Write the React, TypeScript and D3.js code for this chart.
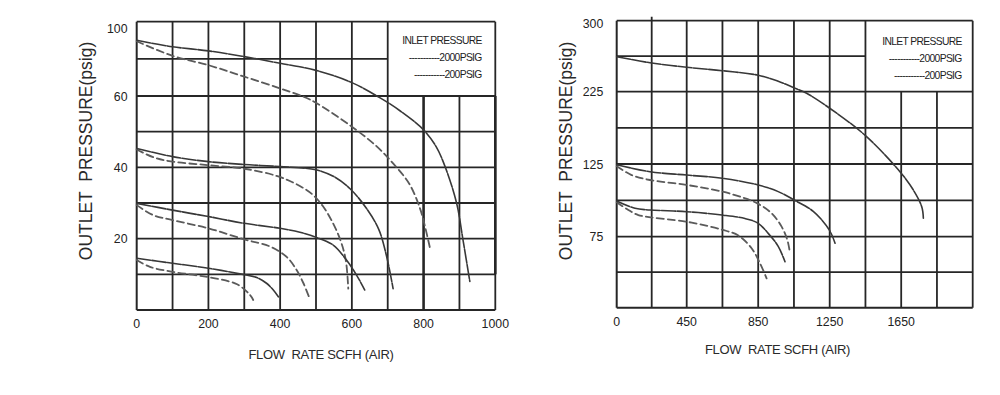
import React from "react";
import * as d3 from "d3";

// ---------- DATA ----------
// Left chart (x: flow SCFH, y: outlet psig)
const leftXTicks = [0, 200, 400, 600, 800, 1000];
const leftYTicks = [20, 40, 60, 100];
const leftSolid90: [number, number][] = [[0, 90], [100, 86.5], [200, 84.3], [300, 81.2], [400, 77.6], [500, 73.8], [600, 67.2], [680, 59.4], [735, 55.8], [800, 50.5], [835, 45.8], [860, 40.2], [892, 30], [910, 19.6], [929, 8]];
const leftDashed90: [number, number][] = [[0, 89.5], [100, 81.6], [200, 76.6], [300, 70.4], [400, 64.1], [465, 59.8], [500, 58.1], [600, 51.4], [670, 45.8], [715, 41.1], [760, 35.4], [790, 28.5], [804, 23.4], [818, 17.3]];
const leftSolid45: [number, number][] = [[0, 45.3], [100, 43], [200, 41.6], [300, 40.8], [400, 40.2], [500, 39.3], [550, 37.4], [595, 34], [640, 28.6], [675, 22.6], [697, 15], [715, 6]];
const leftDashed45: [number, number][] = [[0, 45], [50, 42.7], [100, 41.6], [200, 40.6], [300, 39.6], [390, 37.6], [445, 35.3], [490, 32.4], [520, 29], [545, 24.8], [568, 19.6], [583, 14], [590, 6]];
const leftSolid30: [number, number][] = [[0, 29.9], [100, 28], [200, 26.2], [300, 24.3], [400, 22.9], [455, 21.8], [500, 20.4], [548, 18.2], [585, 14], [613, 9.8], [636, 5.6]];
const leftDashed30: [number, number][] = [[0, 29.4], [46, 26.6], [100, 25.2], [200, 22.9], [300, 19.8], [372, 17.8], [418, 14.9], [446, 11.2], [465, 7.5], [480, 3.8]];
const leftSolid15: [number, number][] = [[0, 14.5], [100, 13.1], [200, 11.7], [300, 9.9], [335, 9.1], [362, 7.5], [381, 5.6], [395, 3.7]];
const leftDashed15: [number, number][] = [[0, 14], [37, 12.1], [100, 10.7], [200, 9.2], [280, 7.2], [316, 4.2], [325, 2.8]];

// Right chart
const rightXTicks = [0, 450, 850, 1250, 1650];
const rightYTicks = [300, 225, 125, 75];
const rightSolid262: [number, number][] = [[0, 262], [214, 255.6], [450, 250.8], [649, 247.2], [850, 242.4], [962, 236], [1052, 229], [1121, 222.8], [1252, 201.8], [1447, 164.9], [1643, 119.7], [1718, 107.1], [1765, 95.6], [1774, 87.7]];
const rightSolid125: [number, number][] = [[0, 124.5], [214, 119.7], [450, 117.4], [649, 115.2], [850, 110.6], [962, 106], [1052, 100.2], [1158, 92.4], [1248, 79.6], [1280, 70.4]];
const rightDashed125: [number, number][] = [[0, 123.5], [96, 117.4], [214, 114], [450, 110.6], [649, 106], [776, 101.4], [850, 97.6], [925, 91.1], [981, 81.9], [1013, 72.7], [1028, 63.3]];
const rightSolid100: [number, number][] = [[0, 99.6], [118, 94.5], [214, 93.4], [450, 92.2], [649, 89.9], [776, 87.5], [850, 84.2], [906, 77.3], [962, 68.2], [1000, 57.4]];
const rightDashed100: [number, number][] = [[0, 98.7], [75, 93.4], [139, 89.9], [450, 85.3], [649, 79.8], [739, 75.8], [814, 66.7], [860, 56.3], [897, 45.7]];

const legendTitle = "INLET PRESSURE";
const legendItems = ["-----------2000PSIG", "-----------200PSIG"];
const yTitle = "OUTLET  PRESSURE(psig)";
const xTitleLeft = "FLOW  RATE SCFH (AIR)";
const xTitleRight = "FLOW  RATE SCFH (AIR)";

// ---------- STYLE ----------
const FONT = "'Liberation Sans', Arial, sans-serif";
const GRID = "#262626";
const SOLID = { stroke: "#383838", width: 1.6, dash: "14,1.5" };
const DASH = { stroke: "#5a5a5a", width: 1.8, dash: "7,4" };

type Seg = { x1: number; y1: number; x2: number; y2: number; w?: number };

function Curve({ data, x, y, style }: any) {
  const line = d3
    .line<[number, number]>()
    .x((d) => x(d[0]))
    .y((d) => y(d[1]))
    .curve(d3.curveCatmullRom.alpha(0.5));
  return (
    <path
      d={line(data) || ""}
      fill="none"
      stroke={style.stroke}
      strokeWidth={style.width}
      strokeDasharray={style.dash}
      strokeLinecap="round"
    />
  );
}

function Grid({ segs }: { segs: Seg[] }) {
  return (
    <g>
      {segs.map((s, i) => (
        <line key={i} x1={s.x1} y1={s.y1} x2={s.x2} y2={s.y2} stroke={GRID} strokeWidth={s.w ?? 1.8} />
      ))}
    </g>
  );
}

function Legend({ xRight, yTop }: { xRight: number; yTop: number }) {
  return (
    <g fontFamily={FONT} fontSize={10.3} fill="#222" letterSpacing={-0.65} textAnchor="end">
      <text x={xRight} y={yTop}>{legendTitle}</text>
      <text x={xRight} y={yTop + 17.5}>{legendItems[0]}</text>
      <text x={xRight} y={yTop + 34.5}>{legendItems[1]}</text>
    </g>
  );
}

export default function App() {
  // Left chart scales
  const lx = d3.scaleLinear().domain([0, 1000]).range([136.7, 495.3]);
  const ly = d3.scaleLinear().domain([0, 60, 100]).range([310, 96, 21.7]);

  const leftSegs: Seg[] = [];
  leftSegs.push({ x1: lx(0), y1: ly(100), x2: lx(1000), y2: ly(100) });
  leftSegs.push({ x1: lx(0), y1: ly(0), x2: lx(1000), y2: ly(0), w: 2 });
  leftSegs.push({ x1: lx(0), y1: ly(100), x2: lx(0), y2: ly(0), w: 2 });
  leftSegs.push({ x1: lx(1000), y1: ly(100), x2: lx(1000), y2: ly(0) });
  leftSegs.push({ x1: lx(1000), y1: ly(60), x2: lx(1000), y2: ly(10), w: 2.6 });
  [10, 20, 30, 40, 50, 60].forEach((v) => leftSegs.push({ x1: lx(0), y1: ly(v), x2: lx(1000), y2: ly(v) }));
  leftSegs.push({ x1: lx(0), y1: ly(80), x2: lx(700), y2: ly(80) });
  [100, 200, 300, 400, 500, 600, 700].forEach((v) => leftSegs.push({ x1: lx(v), y1: ly(100), x2: lx(v), y2: ly(0) }));
  leftSegs.push({ x1: lx(800), y1: ly(60), x2: lx(800), y2: ly(0), w: 2.6 });
  leftSegs.push({ x1: lx(900), y1: ly(60), x2: lx(900), y2: ly(0) });

  // Right chart scales
  const rx = d3.scaleLinear().domain([0, 450, 2050]).range([616.7, 686.7, 972.7]);
  const ry = d3.scaleLinear().domain([25, 75, 125, 225, 300]).range([307.7, 236.7, 164, 91.7, 20.7]);
  const rCols = [225, 450, 650, 850, 1050, 1250, 1450];
  const rRows = [225, 175, 125, 100, 75, 50];

  const rightSegs: Seg[] = [];
  rightSegs.push({ x1: rx(0), y1: ry(300), x2: rx(2050), y2: ry(300) });
  rightSegs.push({ x1: rx(0), y1: ry(25), x2: rx(2050), y2: ry(25), w: 2 });
  rightSegs.push({ x1: rx(0), y1: ry(300), x2: rx(0), y2: ry(25), w: 2 });
  rightSegs.push({ x1: rx(2050), y1: ry(300), x2: rx(2050), y2: ry(25) });
  rRows.forEach((v) => rightSegs.push({ x1: rx(0), y1: ry(v), x2: rx(2050), y2: ry(v) }));
  rightSegs.push({ x1: rx(0), y1: ry(262.5), x2: rx(1450), y2: ry(262.5) });
  rCols.forEach((v) => rightSegs.push({ x1: rx(v), y1: ry(300) - (v === 225 ? 4 : 0), x2: rx(v), y2: ry(25) }));
  [1650, 1850].forEach((v) => rightSegs.push({ x1: rx(v), y1: ry(225), x2: rx(v), y2: ry(25) }));

  return (
    <svg
      width={1000}
      height={395}
      viewBox="0 0 1000 395"
      style={{ position: "absolute", left: 0, top: 0, background: "#fff" }}
    >
      <rect width={1000} height={395} fill="#fff" />
      {/* LEFT CHART */}
      <Grid segs={leftSegs} />
      <Curve data={leftDashed90} x={lx} y={ly} style={DASH} />
      <Curve data={leftSolid90} x={lx} y={ly} style={SOLID} />
      <Curve data={leftDashed45} x={lx} y={ly} style={DASH} />
      <Curve data={leftSolid45} x={lx} y={ly} style={SOLID} />
      <Curve data={leftDashed30} x={lx} y={ly} style={DASH} />
      <Curve data={leftSolid30} x={lx} y={ly} style={SOLID} />
      <Curve data={leftDashed15} x={lx} y={ly} style={DASH} />
      <Curve data={leftSolid15} x={lx} y={ly} style={SOLID} />
      <g fontFamily={FONT} fontSize={12.3} fill="#222">
        {leftXTicks.map((t) => (
          <text key={t} x={lx(t)} y={327.5} textAnchor="middle">{t}</text>
        ))}
        {leftYTicks.map((t) => (
          <text key={t} x={127.5} y={ly(t) + (t === 100 ? 11.5 : 4.5)} textAnchor="end">{t}</text>
        ))}
      </g>
      <text
        transform={`translate(92,151) rotate(-90)`}
        textAnchor="middle"
        fontFamily={FONT}
        fontSize={17.5}
        fill="#2a2a2a"
        style={{ whiteSpace: "pre" }}
      >
        {yTitle}
      </text>
      <text x={321} y={359} textAnchor="middle" fontFamily={FONT} fontSize={13} letterSpacing={-0.3} fill="#2a2a2a" style={{ whiteSpace: "pre" }}>
        {xTitleLeft}
      </text>
      <Legend xRight={481.7} yTop={43.5} />

      {/* RIGHT CHART */}
      <Grid segs={rightSegs} />
      <Curve data={rightSolid262} x={rx} y={ry} style={SOLID} />
      <Curve data={rightDashed125} x={rx} y={ry} style={DASH} />
      <Curve data={rightSolid125} x={rx} y={ry} style={SOLID} />
      <Curve data={rightDashed100} x={rx} y={ry} style={DASH} />
      <Curve data={rightSolid100} x={rx} y={ry} style={SOLID} />
      <g fontFamily={FONT} fontSize={12.3} fill="#222">
        {rightXTicks.map((t) => (
          <text key={t} x={rx(t)} y={326} textAnchor="middle">{t}</text>
        ))}
        {rightYTicks.map((t) => (
          <text key={t} x={603.3} y={ry(t) + (t === 300 ? 7.5 : 4.5)} textAnchor="end">{t}</text>
        ))}
      </g>
      <text
        transform={`translate(572,151) rotate(-90)`}
        textAnchor="middle"
        fontFamily={FONT}
        fontSize={17.5}
        fill="#2a2a2a"
        style={{ whiteSpace: "pre" }}
      >
        {yTitle}
      </text>
      <text x={777.5} y={354} textAnchor="middle" fontFamily={FONT} fontSize={13} letterSpacing={-0.3} fill="#2a2a2a" style={{ whiteSpace: "pre" }}>
        {xTitleRight}
      </text>
      <Legend xRight={961.7} yTop={44.5} />
    </svg>
  );
}
